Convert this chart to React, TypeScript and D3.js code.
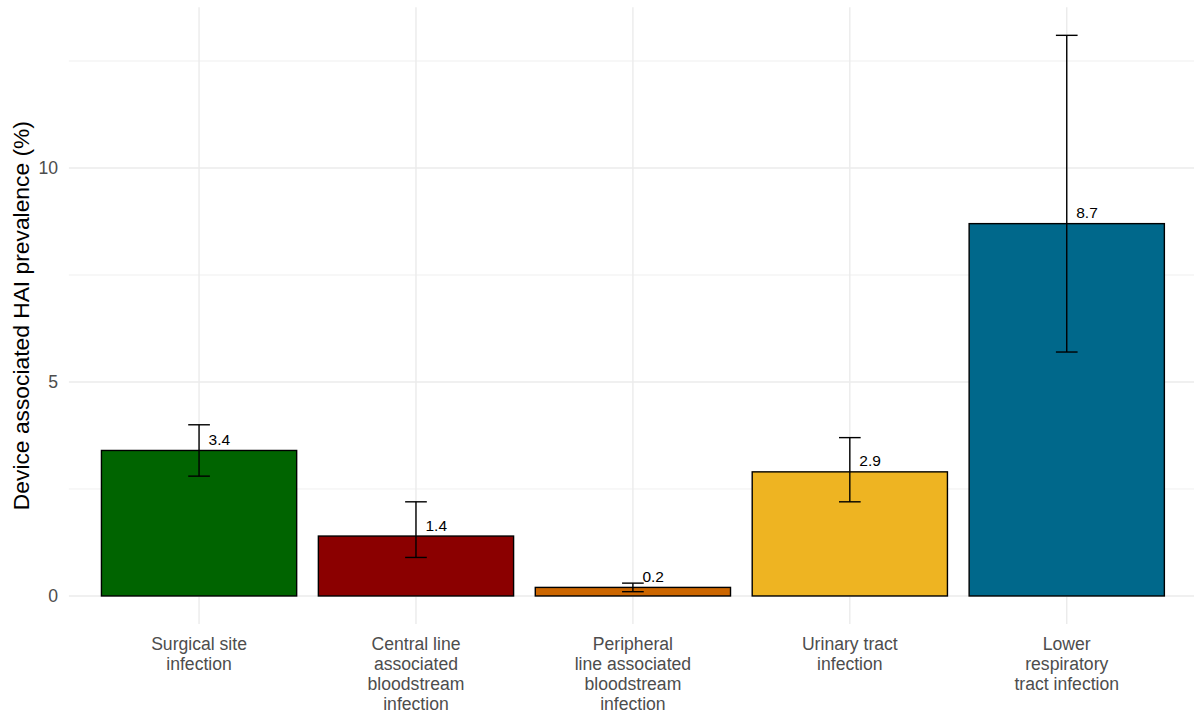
import React from "react";
import * as d3 from "d3";

const categories = [
  ["Surgical site", "infection"],
  ["Central line", "associated", "bloodstream", "infection"],
  ["Peripheral", "line associated", "bloodstream", "infection"],
  ["Urinary tract", "infection"],
  ["Lower", "respiratory", "tract infection"],
];
const values = [3.4, 1.4, 0.2, 2.9, 8.7];
const lower = [2.8, 0.9, 0.1, 2.2, 5.7];
const upper = [4.0, 2.2, 0.3, 3.7, 13.1];
const colors = ["#006400", "#8B0000", "#CC6600", "#EEB422", "#00688B"];
const yTicks = [0, 5, 10];
const yMinor = [2.5, 7.5, 12.5];
const yTitle = "Device associated HAI prevalence (%)";

const W = 1194;
const H = 715;
const panelLeft = 68.9;
const panelRight = 1196.9;
const panelTop = 7.3;
const panelBottom = 624;

export default function App() {
  const idx = categories.map((_, i) => i + 1);
  const x = d3.scaleLinear().domain([0.4, 5.6]).range([panelLeft, panelRight]);
  const yMax = d3.max(upper) as number;
  const pad = yMax * 0.05;
  const y = d3.scaleLinear().domain([0 - pad, yMax + pad]).range([panelBottom, panelTop]);
  const step = x(2) - x(1);
  const barW = step * 0.9;
  const capW = step * 0.1;
  const font = "'Liberation Sans', Arial, sans-serif";

  return (
    <svg width={W} height={H} style={{ position: "absolute", left: 0, top: 0, background: "#fff" }} fontFamily={font}>
      {/* gridlines */}
      {yMinor.map((t) => (
        <line key={"mn" + t} x1={panelLeft} x2={W} y1={y(t)} y2={y(t)} stroke="#EBEBEB" strokeWidth={0.8} />
      ))}
      {yTicks.map((t) => (
        <line key={"mj" + t} x1={panelLeft} x2={W} y1={y(t)} y2={y(t)} stroke="#EBEBEB" strokeWidth={1.4} />
      ))}
      {idx.map((i) => (
        <line key={"vx" + i} x1={x(i)} x2={x(i)} y1={panelTop} y2={panelBottom} stroke="#EBEBEB" strokeWidth={1.4} />
      ))}
      {/* bars */}
      {values.map((v, i) => (
        <rect
          key={"b" + i}
          x={x(i + 1) - barW / 2}
          y={y(v)}
          width={barW}
          height={y(0) - y(v)}
          fill={colors[i]}
          stroke="#000"
          strokeWidth={1.4}
        />
      ))}
      {/* error bars */}
      {values.map((v, i) => {
        const cx = x(i + 1);
        return (
          <g key={"e" + i} stroke="#000" strokeWidth={1.4}>
            <line x1={cx} x2={cx} y1={y(lower[i])} y2={y(upper[i])} />
            <line x1={cx - capW / 2} x2={cx + capW / 2} y1={y(lower[i])} y2={y(lower[i])} />
            <line x1={cx - capW / 2} x2={cx + capW / 2} y1={y(upper[i])} y2={y(upper[i])} />
          </g>
        );
      })}
      {/* value labels */}
      {values.map((v, i) => (
        <text key={"l" + i} x={x(i + 1) + 9.5} y={y(v) - 5.5} fontSize={15.5} fill="#000">
          {v.toFixed(1)}
        </text>
      ))}
      {/* y tick labels */}
      {yTicks.map((t) => (
        <text key={"yt" + t} x={58} y={y(t)} dy="0.36em" textAnchor="end" fontSize={17.6} fill="#4D4D4D">
          {t}
        </text>
      ))}
      {/* x tick labels */}
      {categories.map((lines, i) => (
        <text key={"xt" + i} x={x(i + 1)} y={650} textAnchor="middle" fontSize={17.6} fill="#4D4D4D">
          {lines.map((ln, j) => (
            <tspan key={j} x={x(i + 1)} dy={j === 0 ? 0 : 20}>
              {ln}
            </tspan>
          ))}
        </text>
      ))}
      {/* y title */}
      <text
        transform={`translate(${29},${(panelTop + panelBottom) / 2}) rotate(-90)`}
        textAnchor="middle"
        fontSize={22.8}
        fill="#000"
      >
        {yTitle}
      </text>
    </svg>
  );
}
